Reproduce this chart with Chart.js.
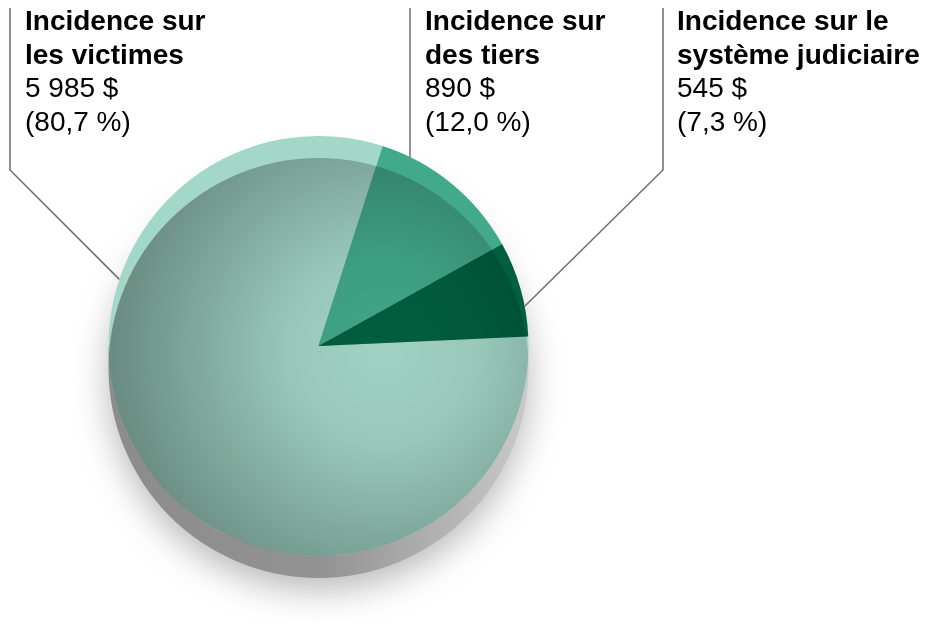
<!DOCTYPE html>
<html>
<head>
<meta charset="utf-8">
<script src="https://cdn.jsdelivr.net/npm/chart.js@4.4.0/dist/chart.umd.min.js"></script>
<style>
  html, body { margin: 0; padding: 0; background: #fff; }
</style>
</head>
<body>
<canvas id="pieChart" width="925" height="624"></canvas>
<script>
// chart data
const categories = [
  ["Incidence sur", "les victimes"],
  ["Incidence sur", "des tiers"],
  ["Incidence sur le", "système judiciaire"]
];
const amounts = [5985, 890, 545];
const amountLabels = ["5 985 $", "890 $", "545 $"];
const percentLabels = ["(80,7 %)", "(12,0 %)", "(7,3 %)"];
const sliceColors = ["#a3d7c7", "#42a98a", "#00603f"];

const DEPTH = 22;

// gray side + soft shadow under the pie, then darker "top face" over it
const pie3d = {
  id: "pie3d",
  beforeDatasetsDraw(chart) {
    const arc = chart.getDatasetMeta(0).data[0];
    const ctx = chart.ctx;
    const cx = arc.x, cy = arc.y, r = arc.outerRadius;

    ctx.save();
    const g = ctx.createLinearGradient(cx - r, 0, cx + r, 0);
    g.addColorStop(0, "#8c8c8c");
    g.addColorStop(0.5, "#929292");
    g.addColorStop(1, "#c9c9c9");
    ctx.fillStyle = g;
    ctx.shadowColor = "rgba(0,0,0,0.28)";
    ctx.shadowBlur = 35;
    ctx.shadowOffsetY = 12;
    ctx.beginPath();
    ctx.arc(cx, cy + DEPTH, r, 0, Math.PI * 2);
    ctx.rect(cx - r, cy, 2 * r, DEPTH);
    ctx.fill();
    ctx.restore();
  },
  afterDatasetsDraw(chart) {
    const arc = chart.getDatasetMeta(0).data[0];
    const ctx = chart.ctx;
    const cx = arc.x, cy = arc.y, r = arc.outerRadius;

    ctx.save();
    ctx.beginPath();
    ctx.arc(cx, cy, r, 0, Math.PI * 2);
    ctx.clip();
    const g = ctx.createRadialGradient(cx + 65, cy + 5, 0, cx + 65, cy + 5, 270);
    g.addColorStop(0, "rgba(0,0,0,0.02)");
    g.addColorStop(0.35, "rgba(0,0,0,0.07)");
    g.addColorStop(1, "rgba(0,0,0,0.35)");
    ctx.fillStyle = g;
    ctx.beginPath();
    ctx.arc(cx, cy + DEPTH, r, 0, Math.PI * 2);
    ctx.fill();
    ctx.restore();
  }
};

// labels in the top band with their leader lines
const labelPlugin = {
  id: "topLabels",
  afterDraw(chart) {
    const arc = chart.getDatasetMeta(0).data[0];
    const ctx = chart.ctx;
    const cx = arc.x, cy = arc.y, r = arc.outerRadius;
    const onRim = deg => [cx + r * Math.cos(deg * Math.PI / 180), cy + r * Math.sin(deg * Math.PI / 180)];

    const textX = [25, 425, 677];
    const lines = [
      [[10, 8], [10, 170], onRim(198.5)],
      [[410, 8], [410, cy - Math.sqrt(r * r - (410 - cx) * (410 - cx))]],
      [[663, 8], [663, 170], onRim(-10.9)]
    ];

    ctx.save();
    ctx.strokeStyle = "#6e6e6e";
    ctx.lineWidth = 1.5;
    lines.forEach(pts => {
      ctx.beginPath();
      ctx.moveTo(pts[0][0], pts[0][1]);
      pts.slice(1).forEach(p => ctx.lineTo(p[0], p[1]));
      ctx.stroke();
    });

    ctx.fillStyle = "#000";
    ctx.textBaseline = "alphabetic";
    categories.forEach((cat, i) => {
      const x = textX[i];
      ctx.font = "bold 28px 'Liberation Sans', Arial, sans-serif";
      ctx.fillText(cat[0], x, 30);
      ctx.fillText(cat[1], x, 63.5);
      ctx.font = "28px 'Liberation Sans', Arial, sans-serif";
      ctx.fillText(amountLabels[i], x, 97);
      ctx.fillText(percentLabels[i], x, 131);
    });
    ctx.restore();
  }
};

new Chart(document.getElementById("pieChart"), {
  type: "pie",
  data: {
    labels: categories.map(c => c.join(" ")),
    datasets: [{
      data: amounts,
      backgroundColor: sliceColors,
      borderWidth: 0,
      hoverOffset: 0
    }]
  },
  options: {
    responsive: false,
    animation: false,
    events: [],
    rotation: 87.4,
    layout: { padding: { left: 108, top: 136, right: 396, bottom: 68 } },
    plugins: {
      legend: { display: false },
      tooltip: { enabled: false }
    }
  },
  plugins: [pie3d, labelPlugin]
});
</script>
</body>
</html>
